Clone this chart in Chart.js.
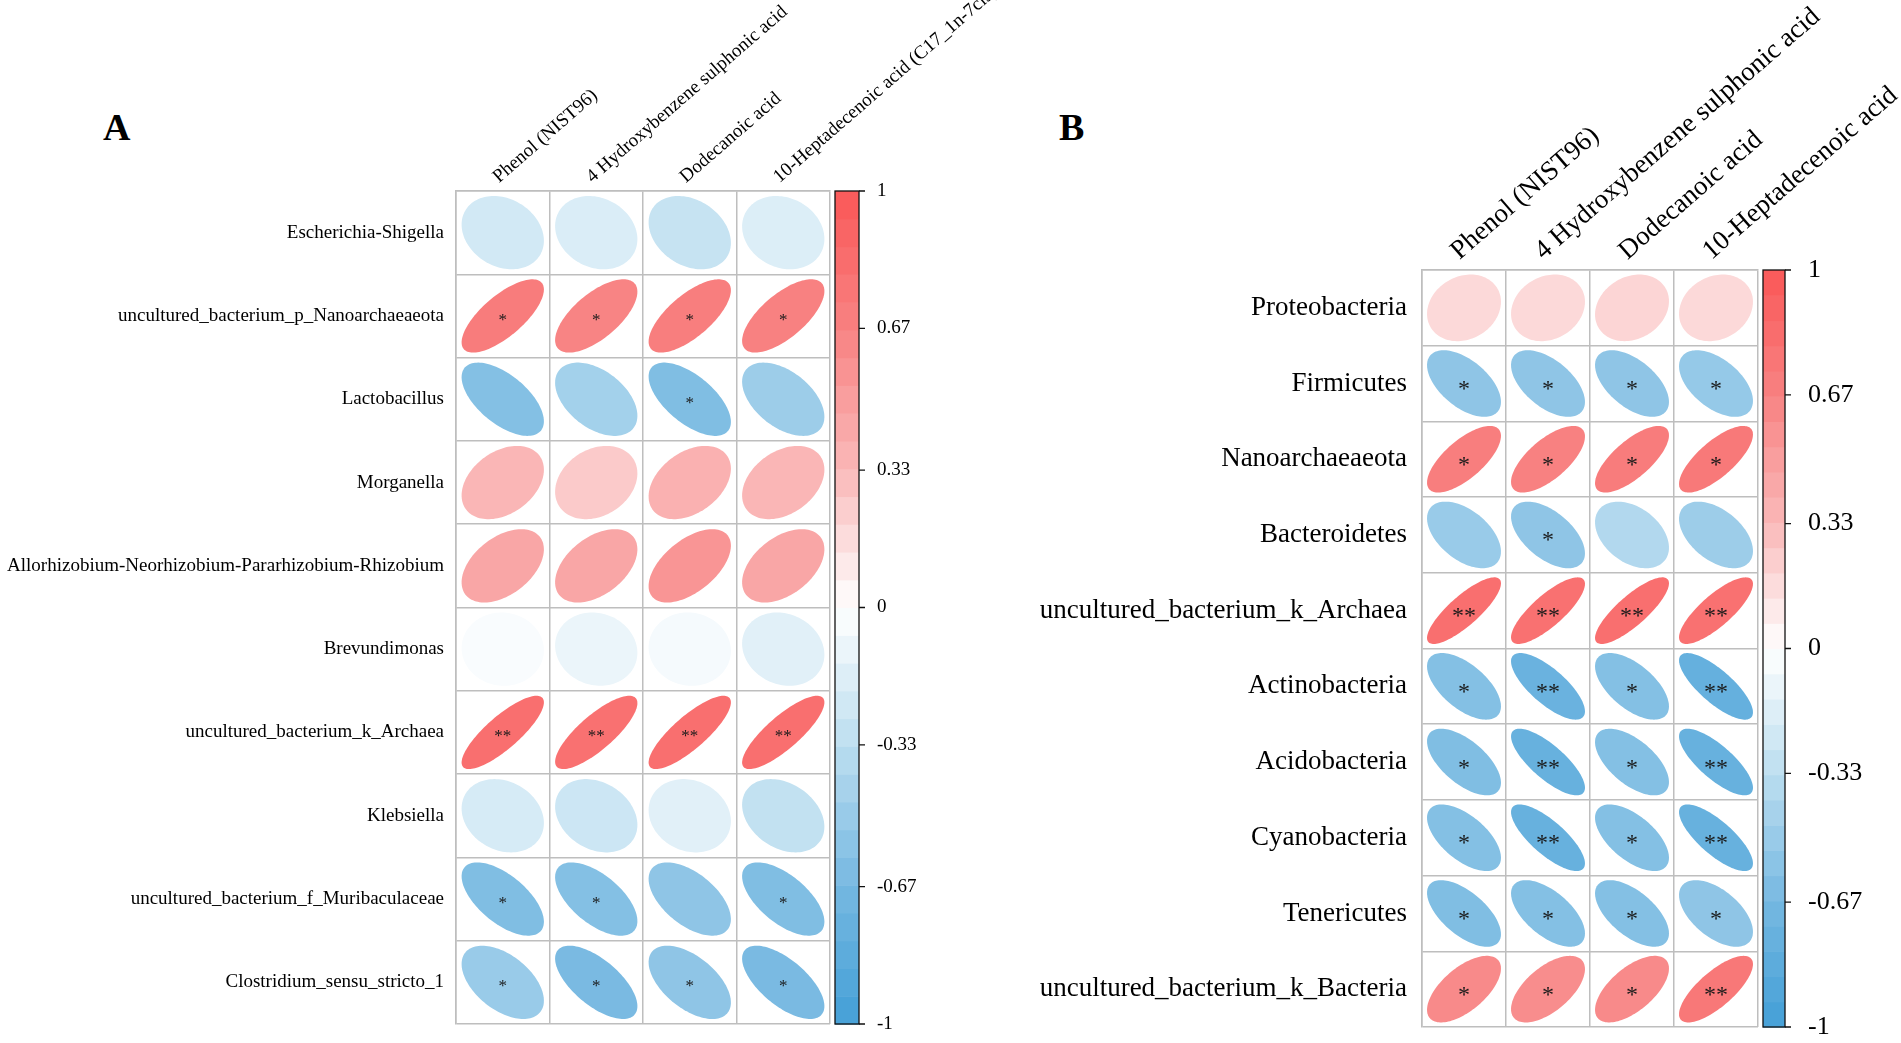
<!DOCTYPE html>
<html><head><meta charset="utf-8">
<script src="https://cdn.jsdelivr.net/npm/chart.js@4.4.1/dist/chart.umd.min.js"></script>
<style>
html,body{margin:0;padding:0;background:#fff;overflow:hidden;}
#wrap{position:relative;width:1901px;height:1043px;background:#fff;}
.panel{position:absolute;top:0;}
.tag{position:absolute;font-family:"Liberation Serif",serif;font-weight:bold;font-size:38px;line-height:38px;color:#000;}
</style></head><body>
<div id="wrap">
<div class="tag" style="left:103px;top:108px">A</div>
<div class="tag" style="left:1059px;top:108px">B</div>
<div class="panel" style="left:0px;width:1000px;height:1043px"><canvas id="ca"></canvas></div>
<div class="panel" style="left:950px;width:951px;height:1043px"><canvas id="cb"></canvas></div>
</div>
<script>
// ---------- data ----------
const compoundsA = ["Phenol (NIST96)", "4 Hydroxybenzene sulphonic acid", "Dodecanoic acid", "10-Heptadecenoic acid (C17_1n-7cis)"];
const taxaA = ["Escherichia-Shigella", "uncultured_bacterium_p_Nanoarchaeaeota", "Lactobacillus", "Morganella",
  "Allorhizobium-Neorhizobium-Pararhizobium-Rhizobium", "Brevundimonas", "uncultured_bacterium_k_Archaea",
  "Klebsiella", "uncultured_bacterium_f_Muribaculaceae", "Clostridium_sensu_stricto_1"];
const corrA = [
  [-0.22, -0.18, -0.28, -0.17],
  [0.72, 0.66, 0.70, 0.68],
  [-0.60, -0.45, -0.62, -0.48],
  [0.35, 0.25, 0.38, 0.35],
  [0.45, 0.45, 0.55, 0.45],
  [-0.03, -0.10, -0.05, -0.15],
  [0.82, 0.80, 0.82, 0.82],
  [-0.20, -0.25, -0.15, -0.30],
  [-0.62, -0.60, -0.55, -0.62],
  [-0.50, -0.65, -0.55, -0.65]
];
const sigA = [
  ["", "", "", ""],
  ["*", "*", "*", "*"],
  ["", "", "*", ""],
  ["", "", "", ""],
  ["", "", "", ""],
  ["", "", "", ""],
  ["**", "**", "**", "**"],
  ["", "", "", ""],
  ["*", "*", "", "*"],
  ["*", "*", "*", "*"]
];
const compoundsB = ["Phenol (NIST96)", "4 Hydroxybenzene sulphonic acid", "Dodecanoic acid", "10-Heptadecenoic acid"];
const taxaB = ["Proteobacteria", "Firmicutes", "Nanoarchaeaeota", "Bacteroidetes", "uncultured_bacterium_k_Archaea",
  "Actinobacteria", "Acidobacteria", "Cyanobacteria", "Tenericutes", "uncultured_bacterium_k_Bacteria"];
const corrB = [
  [0.18, 0.18, 0.20, 0.18],
  [-0.55, -0.55, -0.55, -0.52],
  [0.70, 0.68, 0.72, 0.74],
  [-0.50, -0.55, -0.38, -0.48],
  [0.82, 0.80, 0.82, 0.80],
  [-0.60, -0.75, -0.60, -0.78],
  [-0.62, -0.77, -0.60, -0.77],
  [-0.60, -0.77, -0.60, -0.77],
  [-0.62, -0.60, -0.60, -0.55],
  [0.62, 0.60, 0.62, 0.75]
];
const sigB = [
  ["", "", "", ""],
  ["*", "*", "*", "*"],
  ["*", "*", "*", "*"],
  ["", "*", "", ""],
  ["**", "**", "**", "**"],
  ["*", "**", "*", "**"],
  ["*", "**", "*", "**"],
  ["*", "**", "*", "**"],
  ["*", "*", "*", "*"],
  ["*", "*", "*", "**"]
];
const colorbarTicks = [1, 0.67, 0.33, 0, -0.33, -0.67, -1];
const colorbarTickLabels = ["1", "0.67", "0.33", "0", "-0.33", "-0.67", "-1"];

// ---------- colour ramp ----------
const rampStops = [
  [-1, [68, 160, 215]], [-0.67, [118, 184, 225]], [-0.33, [188, 222, 240]], [0, [255, 255, 255]],
  [0.33, [250, 185, 185]], [0.67, [248, 130, 130]], [1, [250, 88, 88]]
];
function colorFor(v) {
  for (let i = 0; i < rampStops.length - 1; i++) {
    const [a, ca] = rampStops[i], [b, cb] = rampStops[i + 1];
    if (v >= a && v <= b) {
      const f = (v - a) / (b - a);
      const c = ca.map((x, k) => Math.round(x + (cb[k] - x) * f));
      return `rgb(${c[0]},${c[1]},${c[2]})`;
    }
  }
  return v < 0 ? 'rgb(68,160,215)' : 'rgb(250,88,88)';
}

const SERIF = '"Liberation Serif", "Times New Roman", serif';
const GRID = 'rgb(190,190,190)';

const corrPlugin = {
  id: 'corrEllipses',
  afterDatasetsDraw(chart, args, opts) {
    const ctx = chart.ctx, xs = chart.scales.x, ys = chart.scales.y;
    const cw = xs.width / xs.getLabels().length, ch = ys.height / ys.getLabels().length;
    const meta = chart.getDatasetMeta(0);
    const data = chart.data.datasets[0].data;
    ctx.save();
    meta.data.forEach((pt, i) => {
      const r = data[i].v, d = Math.acos(r);
      ctx.beginPath();
      for (let k = 0; k <= 120; k++) {
        const t = 2 * Math.PI * k / 120;
        const ex = Math.cos(t + d / 2), ey = Math.cos(t - d / 2);
        const px = pt.x + ex * 0.44 * cw, py = pt.y - ey * 0.44 * ch;
        if (k === 0) ctx.moveTo(px, py); else ctx.lineTo(px, py);
      }
      ctx.closePath();
      ctx.fillStyle = colorFor(r);
      ctx.fill();
      if (data[i].s) {
        ctx.fillStyle = '#1a1a1a';
        ctx.font = `${opts.starSize}px ${SERIF}`;
        ctx.textAlign = 'center';
        ctx.textBaseline = 'alphabetic';
        ctx.fillText(data[i].s, pt.x, pt.y + 0.52 * opts.starSize);
      }
    });
    ctx.restore();
  },
  afterDraw(chart, args, opts) {
    const ctx = chart.ctx, cb = chart.scales.cb, area = chart.chartArea;
    const x0 = area.right + opts.cbGap, w = opts.cbWidth;
    const N = 30;
    ctx.save();
    for (let i = 0; i < N; i++) {
      const v0 = -1 + 2 * i / N, v1 = -1 + 2 * (i + 1) / N;
      const y0 = cb.getPixelForValue(v0), y1 = cb.getPixelForValue(v1);
      ctx.fillStyle = colorFor((v0 + v1) / 2);
      ctx.fillRect(x0, y1, w, y0 - y1 + 0.6);
    }
    ctx.strokeStyle = '#111';
    ctx.lineWidth = 1.3;
    const top = cb.getPixelForValue(1), bot = cb.getPixelForValue(-1);
    ctx.strokeRect(x0, top, w, bot - top);
    ctx.beginPath();
    cb.ticks.forEach(t => {
      const y = cb.getPixelForValue(t.value);
      ctx.moveTo(x0 + w, y); ctx.lineTo(x0 + w + 6, y);
    });
    ctx.stroke();
    ctx.restore();
  }
};

function makeChart(id, cfg) {
  const canvas = document.getElementById(id);
  canvas.width = cfg.W; canvas.height = cfg.H;
  canvas.style.width = cfg.W + 'px'; canvas.style.height = cfg.H + 'px';
  const points = [];
  cfg.taxa.forEach((tx, i) => cfg.compounds.forEach((cp, j) => {
    points.push({ x: cp, y: tx, v: cfg.corr[i][j], s: cfg.sig[i][j] });
  }));
  const A = cfg.area;
  return new Chart(canvas, {
    type: 'scatter',
    data: { datasets: [{ data: points, pointRadius: 0, pointHoverRadius: 0, showLine: false }] },
    plugins: [corrPlugin],
    options: {
      responsive: false, animation: false, devicePixelRatio: 1,
      layout: { padding: { left: 0, top: 0, right: 0, bottom: cfg.H - A.bottom } },
      plugins: { legend: { display: false }, tooltip: { enabled: false },
        corrEllipses: { starSize: cfg.starSize, cbGap: cfg.cbGap, cbWidth: cfg.cbWidth } },
      scales: {
        x: {
          type: 'category', labels: cfg.compounds, position: 'top', offset: true,
          grid: { display: true, drawTicks: false, offset: true, color: GRID, lineWidth: 1.5 },
          border: { display: true, color: GRID, width: 1.5 },
          ticks: { autoSkip: false, minRotation: cfg.rot, maxRotation: cfg.rot, padding: cfg.colPad,
            labelOffset: cfg.colShift, color: '#000', font: { family: SERIF, size: cfg.colFont } },
          afterFit: s => { s.height = A.top; s.paddingLeft = 0; s.paddingRight = 0; }
        },
        y: {
          type: 'category', labels: cfg.taxa, position: 'left', offset: true,
          grid: { display: true, drawTicks: false, offset: true, color: GRID, lineWidth: 1.5 },
          border: { display: true, color: GRID, width: 1.5 },
          ticks: { autoSkip: false, padding: cfg.rowPad, color: '#000', font: { family: SERIF, size: cfg.rowFont } },
          afterFit: s => { s.width = A.left; s.paddingTop = 0; s.paddingBottom = 0; }
        },
        cb: {
          type: 'linear', position: 'right', min: -1, max: 1,
          grid: { display: false, drawTicks: false }, border: { display: false },
          afterBuildTicks: s => { s.ticks = colorbarTicks.map(v => ({ value: v })); },
          ticks: { padding: cfg.cbPad, color: '#000', font: { family: SERIF, size: cfg.cbFont },
            callback: (v) => colorbarTickLabels[colorbarTicks.indexOf(v)] },
          afterFit: s => { s.width = cfg.W - A.right; s.paddingTop = 0; s.paddingBottom = 0; }
        }
      }
    }
  });
}

makeChart('ca', {
  W: 1000, H: 1043, area: { left: 456, top: 191, right: 830, bottom: 1024 },
  compounds: compoundsA, taxa: taxaA, corr: corrA, sig: sigA,
  rot: 41, colFont: 19, colPad: 3, colShift: 8, rowFont: 19, rowPad: 12, cbFont: 19, cbPad: 47,
  starSize: 17, cbGap: 5, cbWidth: 24
});
makeChart('cb', {
  W: 951, H: 1043, area: { left: 472, top: 270, right: 808, bottom: 1027 },
  compounds: compoundsB, taxa: taxaB, corr: corrB, sig: sigB,
  rot: 41, colFont: 27, colPad: 3, colShift: 12, rowFont: 27, rowPad: 15, cbFont: 26, cbPad: 50,
  starSize: 24, cbGap: 5, cbWidth: 22
});
</script>
</body></html>
